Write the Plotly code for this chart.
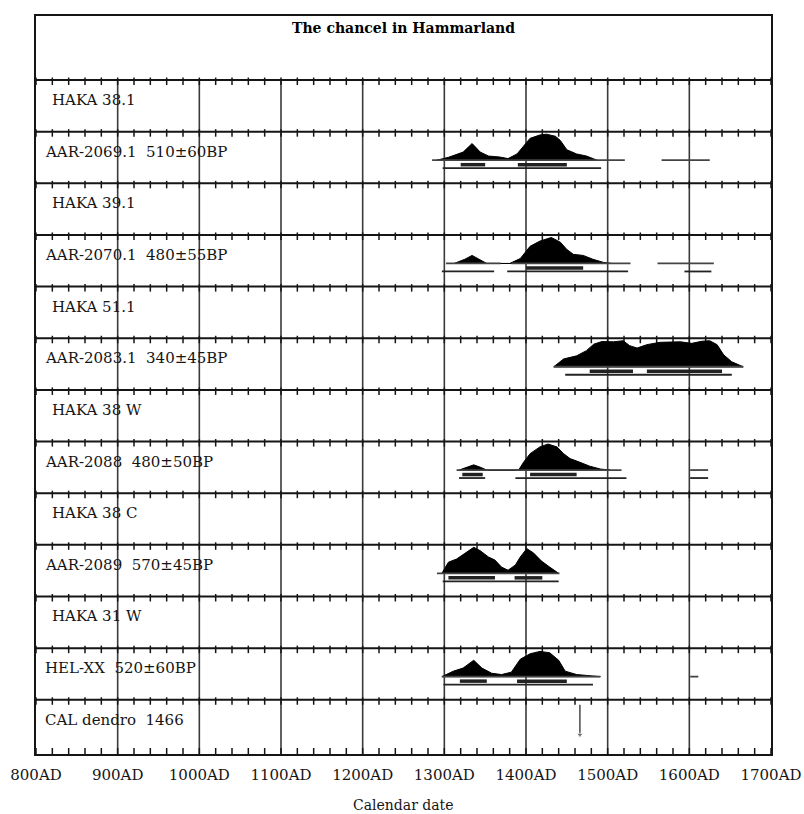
import plotly.graph_objects as go

# ---------------- data ----------------
chart_title = "The chancel in Hammarland"
x_axis_title = "Calendar date"
century_ticks = [800, 900, 1000, 1100, 1200, 1300, 1400, 1500, 1600, 1700]
century_labels = ["800AD", "900AD", "1000AD", "1100AD", "1200AD", "1300AD",
                  "1400AD", "1500AD", "1600AD", "1700AD"]
minor_ticks = [y for y in range(800, 1701, 20)]

row_labels = ["HAKA 38.1", "AAR-2069.1\u00a0 510\u00b160BP", "HAKA 39.1",
              "AAR-2070.1\u00a0 480\u00b155BP", "HAKA 51.1", "AAR-2083.1\u00a0 340\u00b145BP",
              "HAKA 38 W", "AAR-2088\u00a0 480\u00b150BP", "HAKA 38 C",
              "AAR-2089\u00a0 570\u00b145BP", "HAKA 31 W", "HEL-XX\u00a0 520\u00b160BP",
              "CAL dendro\u00a0 1466"]
row_is_date = [False, True, False, True, False, True, False, True, False, True, False, True, True]

# calibrated probability distributions (relative probability, max = 1)
aar2069_years = [1291, 1305, 1323, 1334, 1344, 1354, 1368, 1378, 1389, 1397, 1405, 1417, 1425, 1436, 1442, 1450, 1462, 1474, 1487]
aar2069_prob = [0, .11, .31, .64, .31, .16, .12, .06, .24, .56, .84, .97, 1.0, .92, .76, .40, .24, .16, 0]
aar2069_prior = [(1285, 1521), (1566, 1625)]
aar2069_r68 = [(1320, 1350), (1390, 1450)]
aar2069_r95 = [(1298, 1492)]

aar2070_years = [1312, 1325, 1334, 1343, 1352, 1380, 1393, 1405, 1417, 1431, 1442, 1450, 1458, 1470, 1482, 1495, 1505]
aar2070_prob = [0, .16, .31, .16, 0, 0, .19, .66, .86, 1.0, .82, .54, .35, .31, .16, .04, 0]
aar2070_prior = [(1302, 1369), (1382, 1528), (1561, 1630)]
aar2070_r68 = [(1400, 1470)]
aar2070_r95 = [(1297, 1361), (1377, 1525), (1594, 1627)]

aar2083_years = [1434, 1446, 1462, 1474, 1483, 1493, 1507, 1519, 1527, 1536, 1548, 1564, 1589, 1603, 1615, 1625, 1634, 1642, 1652, 1666]
aar2083_prob = [0, .30, .42, .62, .87, .97, .96, 1.0, .81, .72, .85, .94, .96, .90, .98, 1.0, .85, .46, .19, 0]
aar2083_prior = [(1434, 1666)]
aar2083_r68 = [(1478, 1531), (1548, 1640)]
aar2083_r95 = [(1448, 1652)]

aar2088_years = [1318, 1328, 1336, 1344, 1352, 1391, 1397, 1405, 1417, 1427, 1438, 1446, 1454, 1466, 1478, 1491, 1503]
aar2088_prob = [0, .11, .20, .11, 0, 0, .30, .63, .89, 1.0, .89, .63, .44, .30, .15, .04, 0]
aar2088_prior = [(1315, 1354), (1387, 1517), (1601, 1623)]
aar2088_r68 = [(1322, 1347), (1405, 1462)]
aar2088_r95 = [(1318, 1350), (1387, 1523), (1601, 1623)]

aar2089_years = [1297, 1305, 1315, 1327, 1336, 1344, 1354, 1362, 1370, 1378, 1387, 1393, 1401, 1409, 1419, 1429, 1440]
aar2089_prob = [0, .43, .55, .79, 1.0, .87, .63, .51, .24, .12, .32, .63, .95, .79, .47, .24, 0]
aar2089_prior = [(1291, 1441)]
aar2089_r68 = [(1305, 1362), (1386, 1420)]
aar2089_r95 = [(1298, 1440)]

helxx_years = [1297, 1311, 1323, 1336, 1346, 1358, 1370, 1382, 1393, 1405, 1417, 1429, 1440, 1448, 1462, 1478, 1491]
helxx_prob = [0, .21, .33, .63, .33, .13, .08, .17, .67, .88, .97, .92, .63, .21, .08, .04, 0]
helxx_prior = [(1297, 1491), (1601, 1611)]
helxx_r68 = [(1319, 1352), (1389, 1450)]
helxx_r95 = [(1299, 1482)]

dendro_year = 1466

samples = [
    (1, aar2069_years, aar2069_prob, aar2069_prior, aar2069_r68, aar2069_r95),
    (3, aar2070_years, aar2070_prob, aar2070_prior, aar2070_r68, aar2070_r95),
    (5, aar2083_years, aar2083_prob, aar2083_prior, aar2083_r68, aar2083_r95),
    (7, aar2088_years, aar2088_prob, aar2088_prior, aar2088_r68, aar2088_r95),
    (9, aar2089_years, aar2089_prob, aar2089_prior, aar2089_r68, aar2089_r95),
    (11, helxx_years, helxx_prob, helxx_prior, helxx_r68, helxx_r95),
]
dendro_row = 12

# ---------------- layout constants ----------------
W, H = 804, 814
M_L, M_R, M_T, M_B = 36, 33, 16, 60
Y_TOP, Y_BOT = -1.24, 13.05
PX = (H - M_T - M_B) / (Y_BOT - Y_TOP)  # pixels per row unit
X0, X1 = century_ticks[0], century_ticks[-1]
n_rows = len(row_labels)

def u(px):
    return px / PX

BASE = u(28.5)      # baseline offset inside row
PEAK = u(26)        # height of max probability
FONT = "DejaVu Serif"
INK = "#151515"

fig = go.Figure()

# vertical century grid lines
gx, gy = [], []
for c in century_ticks[1:-1]:
    gx += [c, c, None]
    gy += [0, Y_BOT, None]
fig.add_trace(go.Scatter(x=gx, y=gy, mode="lines", line=dict(color="#3a3a3a", width=1.6),
                         hoverinfo="skip"))

# horizontal row lines
hx, hy = [], []
for r in range(n_rows):
    hx += [X0, X1, None]
    hy += [r, r, None]
fig.add_trace(go.Scatter(x=hx, y=hy, mode="lines", line=dict(color=INK, width=2),
                         hoverinfo="skip"))

# minor ticks on row lines and bottom axis
tx, ty = [], []
for r in range(n_rows):
    for m in minor_ticks:
        tx += [m, m, None]
        ty += [r - u(2.5), r + u(5), None]
for m in minor_ticks:
    tx += [m, m, None]
    ty += [Y_BOT - u(6), Y_BOT, None]
fig.add_trace(go.Scatter(x=tx, y=ty, mode="lines", line=dict(color=INK, width=1.5),
                         hoverinfo="skip"))

# distributions
for row, yrs, prob, prior, r68, r95 in samples:
    base = row + BASE
    px_ = list(yrs) + list(reversed(yrs))
    py_ = [base - p * PEAK for p in prob] + [base] * len(yrs)
    fig.add_trace(go.Scatter(x=px_, y=py_, mode="lines", fill="toself", fillcolor="black",
                             line=dict(color="black", width=1), hoverinfo="skip"))
    lx, ly = [], []
    for a, b in prior:
        lx += [a, b, None]
        ly += [base, base, None]
    fig.add_trace(go.Scatter(x=lx, y=ly, mode="lines", line=dict(color="#444444", width=1.8),
                             hoverinfo="skip"))
    lx, ly = [], []
    for a, b in r68:
        lx += [a, b, None]
        ly += [base + u(4.5), base + u(4.5), None]
    fig.add_trace(go.Scatter(x=lx, y=ly, mode="lines", line=dict(color="#222222", width=3.5),
                             hoverinfo="skip"))
    lx, ly = [], []
    for a, b in r95:
        lx += [a, b, None]
        ly += [base + u(8), base + u(8), None]
    fig.add_trace(go.Scatter(x=lx, y=ly, mode="lines", line=dict(color="#222222", width=1.8),
                             hoverinfo="skip"))

# dendro date arrow
fig.add_trace(go.Scatter(x=[dendro_year, dendro_year],
                         y=[dendro_row + u(5), dendro_row + u(35)],
                         mode="lines+markers",
                         line=dict(color="#555555", width=1.6),
                         marker=dict(symbol=["line-ew", "triangle-down"], size=[0, 6],
                                     color="#555555"),
                         hoverinfo="skip"))

# row labels
for r, (lab, is_date) in enumerate(zip(row_labels, row_is_date)):
    fig.add_annotation(x=X0 + (8 if is_date else 17), y=r + u(20), text=lab,
                       showarrow=False, xanchor="left", yanchor="middle",
                       font=dict(family=FONT, size=15, color=INK))

# title
fig.add_annotation(x=(X0 + X1) / 2, y=Y_TOP + u(12), text="<b>" + chart_title + "</b>",
                   showarrow=False, xanchor="center", yanchor="middle",
                   font=dict(family=FONT, size=14, color="black"))

# x axis title
fig.add_annotation(x=0.5, xref="paper", y=-51 / (H - M_T - M_B), yref="paper",
                   text=x_axis_title, showarrow=False, xanchor="center", yanchor="middle",
                   font=dict(family=FONT, size=14, color=INK))

fig.update_layout(
    width=W, height=H,
    margin=dict(l=M_L, r=M_R, t=M_T, b=M_B, autoexpand=False),
    paper_bgcolor="white", plot_bgcolor="white",
    showlegend=False,
    xaxis=dict(range=[X0, X1], tickvals=century_ticks, ticktext=century_labels,
               ticks="", showgrid=False, zeroline=False, automargin=False,
               showline=True, mirror=True, linecolor=INK, linewidth=2,
               tickfont=dict(family=FONT, size=15, color=INK), ticklabelstandoff=6),
    yaxis=dict(range=[Y_BOT, Y_TOP], showticklabels=False, ticks="", showgrid=False,
               automargin=False,
               zeroline=False, showline=True, mirror=True, linecolor=INK, linewidth=2),
)

fig.write_html("out.html", config={"displayModeBar": False},
               post_script="document.body.style.margin='0';document.body.style.overflow='hidden';")
